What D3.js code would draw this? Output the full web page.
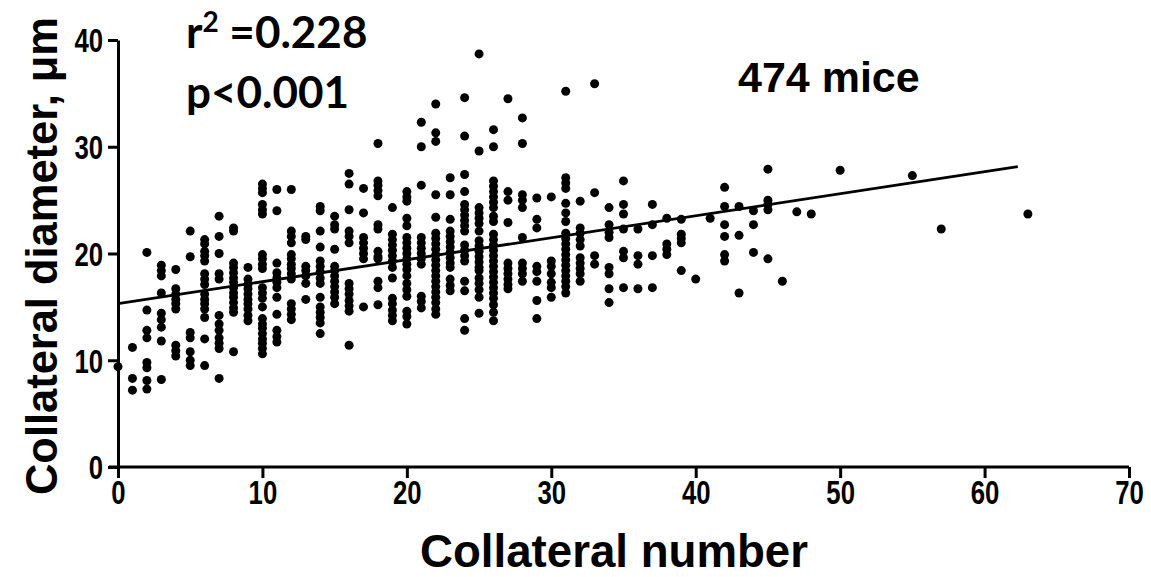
<!DOCTYPE html>
<html>
<head>
<meta charset="utf-8">
<script src="https://cdn.jsdelivr.net/npm/d3@7"></script>
<style>
  body { margin: 0; background: #fff; }
  svg { display: block; }
  .axis path, .axis line { stroke: #000; stroke-width: 3; }
</style>
</head>
<body>
<div id="chart"></div>
<script>
// collateral number (x) for each column of points
const counts = [0, 1, 2, 3, 4, 5, 6, 7, 8, 9, 10, 11, 12, 13, 14, 15, 16, 17, 18, 19,
  20, 21, 22, 23, 24, 25, 26, 27, 28, 29, 30, 31, 32, 33, 34, 35, 36, 37, 38, 39,
  40, 41, 42, 43, 44, 45, 46, 47, 48, 50, 55, 57, 63];

// collateral diameter (um) of each mouse, grouped by the count above
const diameters = [
  [9.4],
  [11.2, 8.3, 7.2],
  [20.1, 14.7, 12.8, 12.1, 9.8, 9.3, 8.1, 7.3],
  [18.9, 18.4, 17.9, 16.3, 14.4, 13.8, 13.1, 11.8, 8.2],
  [18.5, 16.7, 16.2, 15.7, 15.3, 14.8, 11.4, 10.9, 10.4],
  [22.1, 19.7, 12.6, 12.1, 10.8, 10.0, 9.5],
  [21.3, 20.9, 20.2, 19.8, 19.3, 18.1, 17.6, 17.1, 16.2, 15.7, 15.3, 14.8, 14.0, 12.0, 9.5],
  [23.5, 21.6, 20.0, 18.1, 17.6, 14.2, 13.4, 12.8, 12.1, 11.6, 11.1, 8.3],
  [22.4, 22.1, 19.1, 18.7, 18.2, 17.7, 17.3, 16.8, 16.3, 15.9, 15.4, 14.9, 14.5, 10.8],
  [18.7, 17.6, 17.1, 16.7, 16.2, 15.7, 15.3, 14.8, 14.2, 13.7],
  [26.5, 26.1, 25.7, 24.6, 24.1, 23.7, 19.9, 19.5, 19.0, 18.6, 16.8, 16.3, 15.8, 15.0, 13.9, 13.4, 13.0, 12.5, 12.0, 11.6, 11.1, 10.6],
  [26.0, 24.0, 19.1, 18.2, 17.7, 17.3, 16.8, 15.9, 14.3, 12.8, 12.2, 11.7],
  [26.0, 22.1, 21.6, 21.0, 19.9, 19.5, 19.0, 18.6, 18.1, 17.6, 15.3, 14.8, 14.3, 13.8],
  [21.6, 21.3, 18.8, 18.4, 17.9, 17.2, 15.7],
  [24.4, 24.0, 22.1, 20.6, 19.3, 18.8, 18.3, 17.7, 17.2, 15.9, 15.0, 14.5, 14.0, 13.5, 12.5],
  [23.5, 22.7, 22.3, 20.4, 18.8, 18.4, 17.9, 17.4, 16.9, 16.4, 15.9, 15.3],
  [27.5, 26.5, 24.1, 22.1, 21.6, 21.0, 17.2, 16.7, 16.2, 15.6, 15.1, 14.6, 11.4],
  [26.1, 23.8, 21.5, 21.0, 20.5, 20.0, 19.5, 15.0],
  [30.3, 26.8, 26.4, 25.9, 25.4, 22.7, 22.3, 20.2, 19.7, 19.5, 17.4, 16.8, 15.2],
  [24.3, 21.8, 21.3, 20.8, 20.3, 19.8, 19.3, 18.7, 17.7, 15.8, 15.3, 14.7, 14.2, 13.7],
  [25.8, 25.3, 24.9, 23.3, 22.6, 21.5, 21.0, 20.5, 20.0, 19.5, 19.0, 18.5, 17.9, 17.2, 16.6, 16.0, 14.6, 14.1, 13.4],
  [32.3, 30.0, 26.4, 21.5, 21.0, 20.5, 20.0, 19.5, 19.0, 16.0, 15.5, 14.9],
  [34.0, 31.3, 30.5, 25.5, 23.4, 21.9, 21.4, 20.9, 20.4, 19.9, 19.4, 18.9, 18.4, 17.9, 17.4, 16.9, 16.4, 15.9, 15.4, 14.8, 14.3],
  [27.1, 25.5, 23.2, 22.1, 21.6, 21.1, 20.6, 20.1, 19.6, 19.1, 18.7, 17.6, 17.0, 16.5],
  [34.6, 31.0, 27.4, 25.8, 24.6, 24.1, 23.6, 23.1, 22.6, 22.1, 20.8, 20.3, 19.8, 19.3, 17.4, 16.5, 13.9, 12.8],
  [38.7, 29.6, 24.3, 23.8, 23.3, 22.8, 22.1, 21.2, 20.7, 20.2, 19.7, 19.2, 18.7, 18.4, 17.7, 17.2, 16.6, 15.9, 14.4],
  [31.6, 30.0, 26.8, 26.3, 25.8, 25.3, 24.8, 24.3, 23.5, 23.0, 21.8, 21.3, 20.8, 20.3, 19.8, 19.3, 18.8, 18.3, 17.8, 17.3, 16.8, 16.3, 15.8, 15.2, 14.5, 13.7],
  [34.5, 25.8, 25.0, 22.9, 19.1, 18.6, 18.1, 17.6, 17.1, 16.7],
  [32.7, 30.3, 25.5, 25.0, 24.3, 21.5, 19.1, 18.6, 18.1, 17.4],
  [25.2, 23.2, 22.4, 18.8, 18.3, 17.4, 15.6, 13.9],
  [25.3, 19.3, 18.8, 18.1, 17.3, 16.8, 15.9],
  [35.2, 27.1, 26.6, 26.1, 24.7, 23.8, 23.0, 21.9, 21.4, 20.9, 20.4, 19.9, 19.4, 18.9, 18.4, 17.9, 17.4, 16.9, 16.3],
  [24.9, 22.4, 21.9, 21.3, 20.7, 19.6, 19.1, 18.6, 18.1, 17.4],
  [35.9, 25.7, 19.8, 19.0],
  [24.3, 22.7, 22.0, 21.5, 18.7, 18.1, 16.7, 15.4],
  [26.8, 24.6, 23.7, 22.3, 20.2, 19.6, 16.8],
  [22.3, 19.8, 19.0, 16.7],
  [24.6, 22.7, 19.8, 16.8],
  [23.3, 20.9, 20.4, 19.9],
  [23.2, 21.8, 21.4, 21.0, 18.4],
  [17.6],
  [23.3],
  [26.2, 24.4, 22.7, 21.6, 19.9, 19.3],
  [24.4, 21.7, 16.3],
  [24.0, 22.7, 20.1],
  [27.9, 25.0, 24.6, 24.1, 19.5],
  [17.4],
  [23.9],
  [23.7],
  [27.8],
  [27.3],
  [22.3],
  [23.7]
];

// linear fit
const fitIntercept = 15.3;
const fitSlope = 0.206;
const fitRange = [0, 62.3];

const xTicks = [0, 10, 20, 30, 40, 50, 60, 70];
const yTicks = [0, 10, 20, 30, 40];

const width = 1151;
const height = 577;
const squeeze = 0.78; // tick labels are narrow in the original

const svg = d3.select("#chart")
  .append("svg")
  .attr("width", width)
  .attr("height", height);

const x = d3.scaleLinear().domain([0, 70]).range([118, 1129]);
const y = d3.scaleLinear().domain([0, 40]).range([467, 40]);

const points = [];
counts.forEach((c, i) => {
  diameters[i].forEach(d => points.push({ n: c, d: d }));
});

function tickFont(g) {
  g.attr("font-family", "Liberation Sans, Arial, sans-serif")
    .attr("font-size", 33)
    .attr("font-weight", "bold");
}

// axes
svg.append("g")
  .attr("class", "axis")
  .attr("transform", `translate(0,${y(0)})`)
  .call(d3.axisBottom(x).tickValues(xTicks).tickSize(11).tickSizeOuter(0).tickPadding(3))
  .call(tickFont)
  .call(g => g.select(".domain").attr("d", `M${x(0) - 9},0H${x(70)}`))
  .call(g => g.selectAll(".tick text").attr("transform", `scale(${squeeze},1)`));

svg.append("g")
  .attr("class", "axis")
  .attr("transform", `translate(${x(0)},0)`)
  .call(d3.axisLeft(y).tickValues(yTicks).tickSize(10).tickSizeOuter(0).tickPadding(5))
  .call(tickFont)
  .call(g => g.selectAll(".tick text")
    .attr("dy", "0.36em")
    .attr("x", -15 / squeeze)
    .attr("transform", `scale(${squeeze},1)`));

// fit line
svg.append("line")
  .attr("x1", x(fitRange[0]))
  .attr("y1", y(fitIntercept + fitSlope * fitRange[0]))
  .attr("x2", x(fitRange[1]))
  .attr("y2", y(fitIntercept + fitSlope * fitRange[1]))
  .attr("stroke", "#000")
  .attr("stroke-width", 2.8);

// points
svg.append("g")
  .selectAll("circle")
  .data(points)
  .join("circle")
  .attr("cx", d => x(d.n))
  .attr("cy", d => y(d.d))
  .attr("r", 4.5)
  .attr("fill", "#000");

// axis titles
svg.append("text")
  .attr("x", 614)
  .attr("y", 567)
  .attr("text-anchor", "middle")
  .attr("textLength", 388)
  .attr("lengthAdjust", "spacingAndGlyphs")
  .style("font-family", "Liberation Sans, Arial, sans-serif")
  .style("font-weight", "bold")
  .style("font-size", "46px")
  .text("Collateral number");

svg.append("text")
  .attr("transform", "translate(57,256) rotate(-90)")
  .attr("text-anchor", "middle")
  .attr("textLength", 478)
  .attr("lengthAdjust", "spacingAndGlyphs")
  .style("font-family", "Liberation Sans, Arial, sans-serif")
  .style("font-weight", "bold")
  .style("font-size", "45px")
  .text("Collateral diameter, μm");

// annotations
const note = svg.append("g")
  .style("font-family", "Lato, 'Open Sans', sans-serif")
  .style("font-weight", "bold")
  .style("font-size", "44px");

const r2 = note.append("text").attr("x", 186).attr("y", 48);
r2.append("tspan").text("r");
r2.append("tspan").attr("dy", -16).style("font-size", "28px").text("2");
r2.append("tspan").attr("dy", 16).text(" =0.228");

note.append("text").attr("x", 186).attr("y", 108).text("p<0.001");

svg.append("text")
  .attr("x", 738)
  .attr("y", 92)
  .style("font-family", "Liberation Sans, Arial, sans-serif")
  .style("font-weight", "bold")
  .style("font-size", "43px")
  .text("474 mice");
</script>
</body>
</html>
